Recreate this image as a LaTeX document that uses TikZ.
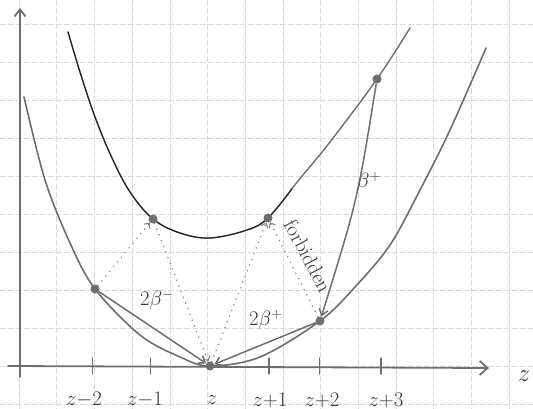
\documentclass[tikz,border=0pt]{standalone}
\usetikzlibrary{arrows.meta}
\definecolor{pen}{HTML}{6E6E6E}
\definecolor{ink}{HTML}{222222}
\definecolor{gridc}{HTML}{DADADA}
\begin{document}
\begin{tikzpicture}[x=1pt,y=-1pt,
  gridline/.style={gridc, line width=0.6pt, dash pattern=on 6pt off 2pt},
  axisline/.style={pen, line width=1.8pt, line cap=round},
  tickline/.style={pen, line width=1.3pt, line cap=round},
  lowcurve/.style={pen, line width=1.6pt, line cap=round},
  upcurve/.style={ink, line width=1.1pt, line cap=round},
  upgray/.style={pen, line width=1.4pt, line cap=round},
  chord/.style={pen, line width=1.5pt, -{Straight Barb[length=6pt,width=9pt]}},
  dotline/.style={pen!85, line width=1.6pt, line cap=round, dash pattern=on 0.1pt off 6pt, -{Straight Barb[length=4pt,width=7pt,line width=1.1pt]}},
  dotn/.style={circle, fill=pen, inner sep=0pt, minimum size=9pt},
  lab/.style={font=\fontsize{20.74}{24}\selectfont, text=ink!90},
]
\useasboundingbox (0,0) rectangle (533,409);
\fill[white] (0,0) rectangle (533,409);
% graph paper
\foreach \k in {0,...,13} \draw[gridline] ({19+37.7*\k},0) -- ({19+37.7*\k},409);
\foreach \k in {0,...,10} \draw[gridline] (0,{24+38*\k}) -- (533,{24+38*\k});
% axes
\coordinate (xa0) at (8,366);
\coordinate (xa1) at (489,368);
\coordinate (ya0) at (20,377);
\coordinate (ya1) at (20,8);
\draw[axisline,-{Straight Barb[length=8pt,width=14pt]}] (xa0) -- (xa1);
\draw[axisline,-{Straight Barb[length=7pt,width=11pt]}] (ya0) -- (ya1);
\foreach \tx in {92.5,150.6,269,319.5,381} \draw[tickline] (\tx,358) -- (\tx,374);
% curves
\draw[lowcurve] plot[smooth, tension=0.55] coordinates {(24,97) (45,180) (70,243) (95,289) (140,335) (180,357) (210,366) (260,357) (320,321) (355,287) (390,245) (420,190) (450,130) (486,48)};
\draw[upgray] plot[smooth, tension=0.6] coordinates {(68,32) (80,72) (95,117) (112,158) (130,192) (153,219) (180,233) (210,238) (247,230) (268,218) (298,181) (330,142) (377,79) (410,28)};
\draw[upcurve] plot[smooth, tension=0.6] coordinates {(68,32) (80,72) (95,117) (112,158) (130,192) (153,219) (180,233) (210,238) (247,230) (268,218) (292,189)};
% points
\node[dotn] (zm2) at (95,289) {};
\node[dotn] (zm1u) at (153,219) {};
\node[dotn] (z0) at (210,366) {};
\node[dotn] (zp1u) at (268,218) {};
\node[dotn] (zp2) at (320,321) {};
\node[dotn] (zp3u) at (377,79) {};
% connectors
\draw[chord] (zm2) -- (z0);
\draw[chord] (zp2) -- (z0);
\draw[chord] (zp3u) .. controls (357.5,200) .. (zp2);
\draw[dotline] (zm2) -- (zm1u);
\draw[dotline] (zm1u) -- (z0);
\draw[dotline] (z0) -- (zp1u);
\draw[dotline] (zp2) -- (zp1u);
% labels
\node[lab] (lzm2) at (84,400) {$z{-}2$};
\node[lab] (lzm1) at (145,400) {$z{-}1$};
\node[lab] (lz0) at (212,400) {$z$};
\node[lab] (lzp1) at (270,400) {$z{+}1$};
\node[lab] (lzp2) at (322,400) {$z{+}2$};
\node[lab] (lzp3) at (386,400) {$z{+}3$};
\node[font=\fontsize{24.88}{28}\selectfont, text=ink!90] (lz) at (524,376) {$z$};
\node[lab] (l2bm) at (157,300) {$2\beta^-$};
\node[lab] (l2bp) at (266,320) {$2\beta^+$};
\node[lab] (lbp) at (369,182) {$\beta^+$};
\node[lab, rotate=-62] (lforb) at (308,256) {forbidden};
\end{tikzpicture}
\end{document}
